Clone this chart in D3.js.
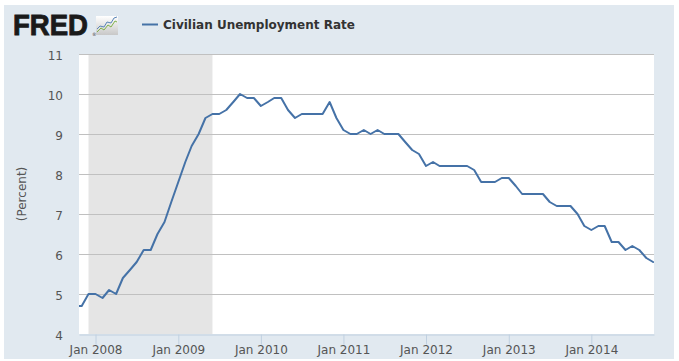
<!DOCTYPE html>
<html>
<head>
<meta charset="utf-8">
<script src="https://cdn.jsdelivr.net/npm/d3@7"></script>
<style>
  html, body { margin: 0; padding: 0; background: #ffffff; }
  svg { display: block; }
</style>
</head>
<body>
<svg id="chart" width="679" height="361"></svg>
<script>
// ---- data ----
const startMonth = "2007-10";
const unemploymentRate = [
  4.7, 4.7, 5.0,
  5.0, 4.9, 5.1, 5.0, 5.4, 5.6, 5.8, 6.1, 6.1, 6.5, 6.8, 7.3,
  7.8, 8.3, 8.7, 9.0, 9.4, 9.5, 9.5, 9.6, 9.8, 10.0, 9.9, 9.9,
  9.7, 9.8, 9.9, 9.9, 9.6, 9.4, 9.5, 9.5, 9.5, 9.5, 9.8, 9.4,
  9.1, 9.0, 9.0, 9.1, 9.0, 9.1, 9.0, 9.0, 9.0, 8.8, 8.6, 8.5,
  8.2, 8.3, 8.2, 8.2, 8.2, 8.2, 8.2, 8.1, 7.8, 7.8, 7.8, 7.9,
  7.9, 7.7, 7.5, 7.5, 7.5, 7.5, 7.3, 7.2, 7.2, 7.2, 7.0, 6.7,
  6.6, 6.7, 6.7, 6.3, 6.3, 6.1, 6.2, 6.1, 5.9, 5.8
];
const recessionStart = "2007-12-01";
const recessionEnd = "2009-06-01";
const xDomain = ["2007-10-20", "2014-10-05"];
const yTicks = [4, 5, 6, 7, 8, 9, 10, 11];
const xTickDates = ["2008-01-01", "2009-01-01", "2010-01-01", "2011-01-01", "2012-01-01", "2013-01-01", "2014-01-01"];
const seriesName = "Civilian Unemployment Rate";
const yAxisTitle = "(Percent)";

// ---- build ----
const parseDay = d3.utcParse("%Y-%m-%d");
const parseMonth = d3.utcParse("%Y-%m");
const m0 = parseMonth(startMonth);
const data = unemploymentRate.map((v, i) => ({ date: d3.utcMonth.offset(m0, i), value: v }));

const svg = d3.select("#chart");
const plot = { left: 79, top: 54, right: 654, bottom: 334 };

// page background
svg.append("rect").attr("x", 4).attr("y", 5).attr("width", 670).attr("height", 354).attr("fill", "#e1e9f0");

// header: FRED logo
const defs = svg.append("defs");
const grad = defs.append("linearGradient").attr("id", "iconGrad").attr("x1", 0).attr("y1", 0).attr("x2", 0).attr("y2", 1);
grad.append("stop").attr("offset", "0%").attr("stop-color", "#ffffff");
grad.append("stop").attr("offset", "100%").attr("stop-color", "#c8c8c8");
defs.append("clipPath").attr("id", "plotClip").append("rect")
  .attr("x", plot.left).attr("y", plot.top).attr("width", plot.right - plot.left).attr("height", plot.bottom - plot.top);

svg.append("text").attr("x", 13).attr("y", 35.3)
  .attr("font-family", "Liberation Sans, Arial, sans-serif").attr("font-weight", "bold")
  .attr("font-size", 29.5).attr("fill", "#1a1a1a").attr("stroke", "#1a1a1a").attr("stroke-width", 0.9)
  .attr("textLength", 75).attr("lengthAdjust", "spacingAndGlyphs")
  .text("FRED");
svg.append("text").attr("x", 92).attr("y", 36).attr("font-family", "DejaVu Sans").attr("font-size", 4.5).attr("fill", "#333").text("®");
const icon = svg.append("g").attr("transform", "translate(96,16)");
icon.append("rect").attr("width", 22).attr("height", 19).attr("fill", "url(#iconGrad)");
icon.append("polyline").attr("points", "1,16 5,12 8,14 12,9 15,11 19,5 21,6")
  .attr("fill", "none").attr("stroke", "#7fb24a").attr("stroke-width", 1);
icon.append("polyline").attr("points", "1,13 4,10 8,11 11,6 15,7 18,2 21,1")
  .attr("fill", "none").attr("stroke", "#5a86b8").attr("stroke-width", 1);

// legend
svg.append("line").attr("x1", 142).attr("x2", 158).attr("y1", 24.5).attr("y2", 24.5)
  .attr("stroke", "#4572a7").attr("stroke-width", 2);
svg.append("text").attr("x", 163).attr("y", 28.5)
  .attr("font-family", "DejaVu Sans, Verdana, sans-serif").attr("font-weight", "bold")
  .attr("font-size", 12).attr("fill", "#333").text(seriesName);

// scales
const x = d3.scaleUtc().domain(xDomain.map(parseDay)).range([plot.left, plot.right]);
const y = d3.scaleLinear().domain([4, 11]).range([plot.bottom, plot.top]);

// plot background
svg.append("rect").attr("x", plot.left).attr("y", plot.top)
  .attr("width", plot.right - plot.left).attr("height", plot.bottom - plot.top).attr("fill", "#ffffff");

// recession shading
svg.append("rect")
  .attr("x", x(parseDay(recessionStart))).attr("y", plot.top)
  .attr("width", x(parseDay(recessionEnd)) - x(parseDay(recessionStart)))
  .attr("height", plot.bottom - plot.top).attr("fill", "#e5e5e5");

// gridlines
svg.append("g").selectAll("line").data(yTicks.filter(t => t > 4)).join("line")
  .attr("x1", plot.left).attr("x2", plot.right)
  .attr("y1", d => Math.round(y(d)) + 0.5).attr("y2", d => Math.round(y(d)) + 0.5)
  .attr("stroke", "#c0c0c0").attr("stroke-width", 1);

// y labels
svg.append("g").selectAll("text").data(yTicks).join("text")
  .attr("x", 63).attr("y", d => y(d) + 5.5)
  .attr("text-anchor", "end")
  .attr("font-family", "DejaVu Sans, Verdana, sans-serif").attr("font-size", 12).attr("fill", "#555")
  .text(d => d);

// y title
svg.append("text").attr("transform", `translate(26,${(plot.top + plot.bottom) / 2}) rotate(-90)`)
  .attr("text-anchor", "middle")
  .attr("font-family", "DejaVu Sans, Verdana, sans-serif").attr("font-size", 12).attr("fill", "#555")
  .text(yAxisTitle);

// x axis
const xAxis = d3.axisBottom(x)
  .tickValues(xTickDates.map(parseDay))
  .tickFormat(d3.utcFormat("%b %Y"))
  .tickSizeInner(10).tickSizeOuter(0).tickPadding(6);
const gx = svg.append("g").attr("transform", `translate(0,${plot.bottom + 0.5})`).call(xAxis);
gx.select(".domain").attr("stroke", "#c0d0e0");
gx.selectAll(".tick line").attr("stroke", "#c0d0e0");
gx.selectAll(".tick text")
  .attr("font-family", "DejaVu Sans, Verdana, sans-serif").attr("font-size", 12).attr("fill", "#555")
  .attr("dy", null).attr("y", 19.5);

// line
const line = d3.line().x(d => x(d.date)).y(d => y(d.value));
svg.append("path").datum(data)
  .attr("clip-path", "url(#plotClip)")
  .attr("d", line)
  .attr("fill", "none").attr("stroke", "#4572a7").attr("stroke-width", 2)
  .attr("stroke-linejoin", "round").attr("stroke-linecap", "round");
</script>
</body>
</html>
